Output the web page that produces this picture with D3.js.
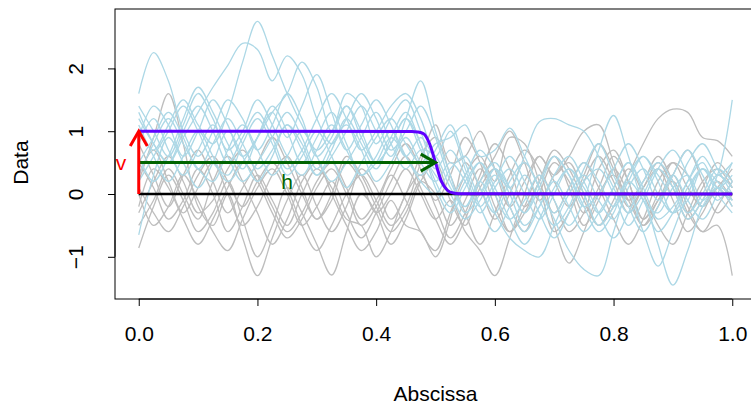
<!DOCTYPE html>
<html>
<head>
<meta charset="utf-8">
<script src="https://cdn.jsdelivr.net/npm/d3@7"></script>
<style>
  html, body { margin: 0; padding: 0; background: #fff; }
  svg { display: block; }
  text { font-family: "Liberation Sans", Arial, Helvetica, sans-serif; }
</style>
</head>
<body>
<svg id="chart" width="751" height="403"></svg>
<script>
// Shared sampling grid of the abscissa
const abscissa = [0, 0.025, 0.05, 0.075, 0.1, 0.125, 0.15, 0.175, 0.2, 0.225,
  0.25, 0.275, 0.3, 0.325, 0.35, 0.375, 0.4, 0.425, 0.45, 0.475,
  0.5, 0.525, 0.55, 0.575, 0.6, 0.625, 0.65, 0.675, 0.7, 0.725,
  0.75, 0.775, 0.8, 0.825, 0.85, 0.875, 0.9, 0.925, 0.95, 0.975, 1];

// Reference curves (grey): no shift anywhere
const greyCurves = [
  [-0.86, -0.2, 0.3, -0.1, -0.6, -0.3, 0.2, -0.4, -1.0, -0.5, 0.1, -0.3, -0.8, -1.29, -0.6, 0.0, -0.3, -0.8, -0.4, 0.2, 0.5, -0.1, -0.5, 0.1, 0.4, -0.2, -0.6, 0.0, 0.5, 0.2, -0.3, 0.1, 0.6, 0.2, -0.4, -0.1, 0.3, -0.2, -0.6, -0.2, 0.2],
  [0.2, 0.9, 1.6, 0.8, -0.2, -0.5, 0.0, -0.7, -1.3, -0.7, -0.1, 0.3, -0.2, -0.6, -0.2, 0.4, 0.1, -0.4, 0.0, 0.6, 0.9, 0.3, -0.3, -0.8, -0.3, 0.3, 0.7, 0.4, -0.1, -0.6, -0.3, 0.4, 0.7, 0.2, -0.4, 0.0, 0.5, 0.3, -0.2, 0.1, 0.4],
  [0.5, 0.1, -0.4, -0.1, 0.4, 0.0, -0.6, -0.2, 0.3, -0.1, -0.5, 0.0, 0.4, 0.1, -0.4, -0.5, -1.0, -0.6, 0.0, 0.3, -0.2, -0.7, -0.3, 0.3, 0.8, 0.4, -0.2, 0.2, 0.6, 0.1, -0.5, -0.1, 0.4, 0.0, -0.5, -0.2, 0.3, 0.7, 0.2, -0.3, 0.0],
  [0.0, -0.5, -0.2, 0.3, -0.1, -0.6, -0.9, -0.4, 0.1, 0.4, 0.0, -0.5, -0.2, 0.2, -0.3, -0.7, -0.3, 0.2, 0.6, 0.1, -0.4, -0.8, -0.4, 0.2, 0.6, 1.0, 0.5, -0.1, 0.3, 0.5, 0.0, -0.5, -0.2, 0.3, 0.8, 1.2, 1.35, 1.3, 0.9, 0.85, 0.6],
  [-0.3, 0.2, 0.6, 0.2, -0.3, -0.1, 0.4, 0.7, 0.3, -0.2, -0.6, -0.3, 0.2, 0.5, 0.1, -0.4, -0.1, 0.4, 0.8, 0.4, -0.1, 0.3, 0.9, 0.5, -0.2, -0.6, -0.2, 0.3, -0.5, -1.1, -0.6, 0.0, 0.3, -0.1, -0.5, -0.1, 0.2, -0.3, -0.6, -0.5, -1.3],
  [0.3, 0.7, 0.2, -0.3, 0.1, 0.5, 0.0, -0.5, -0.2, 0.3, 0.6, 0.1, -0.4, -0.1, 0.5, 0.2, -0.3, 0.0, 0.4, 0.0, -0.4, -0.1, -0.6, -0.9, -1.3, -0.7, 0.0, 0.6, 0.2, -0.2, 0.3, 0.8, 0.4, -0.2, 0.1, 0.5, 0.1, -0.4, -0.1, 0.3, 0.1],
  [0.1, -0.3, -0.6, -0.2, 0.3, 0.6, 0.2, -0.2, 0.2, 0.5, 0.1, -0.5, -0.9, -0.5, 0.0, 0.3, -0.1, -0.5, -0.2, 0.5, 1.1, 0.5, 0.6, 1.0, 0.4, -0.2, 0.2, 0.6, 0.3, 0.6, 1.0, 1.1, 0.5, -0.1, 0.2, 0.6, 0.2, -0.3, 0.1, 0.5, 0.2],
  [-0.2, 0.4, 0.1, -0.4, -0.8, -0.4, 0.1, 0.5, 0.2, -0.3, -0.7, -0.4, 0.1, 0.4, 0.0, -0.5, -0.2, 0.3, -0.1, -0.6, -0.9, -0.3, 0.3, 0.6, 0.2, 0.9, 0.8, 0.2, -0.3, 0.1, 0.5, 0.1, -0.4, -0.8, -0.4, 0.2, 0.5, 0.1, -0.2, 0.2, -0.1],
  [0.8, 0.3, -0.2, 0.3, 0.7, 0.2, -0.3, 0.1, 0.5, 0.9, 0.5, 0.0, -0.4, 0.0, 0.6, 0.3, -0.2, -0.6, -0.3, 0.2, 0.0, -0.5, -0.1, 0.4, 0.0, -0.6, -0.3, 0.2, 0.7, 0.4, -0.1, -0.5, -0.1, 0.4, 0.0, -0.5, -0.8, -0.3, 0.2, 0.4, 0.1],
  [-0.5, -0.1, 0.4, 0.0, -0.4, 0.2, 0.6, 0.2, -0.3, -0.8, -0.4, 0.2, 0.5, 0.0, -0.5, -0.9, -0.6, -0.1, -0.5, -0.6, -1.0, -0.4, 0.5, 0.1, -0.4, 0.0, 0.5, 0.1, -0.6, -0.3, 0.2, 0.6, 0.2, -0.3, 0.1, 0.4, -0.1, -0.6, -0.3, 0.1, -0.2]
];

// Shifted curves (light blue): raised level before the change point
const blueCurves = [
  [1.6, 2.25, 1.8, 1.0, 0.6, 1.0, 1.5, 1.2, 0.7, 1.1, 1.6, 1.2, 0.6, 0.9, 1.4, 1.0, 0.5, 0.8, 1.2, 0.7, 0.3, 0.0, -0.4, -0.1, 0.3, -0.2, -0.6, -0.2, 0.3, 0.6, 0.2, -0.3, -0.7, -0.3, 0.2, 0.5, 0.2, -0.3, 0.0, 0.4, 0.2],
  [1.0, 0.7, 1.1, 1.5, 1.1, 0.8, 1.3, 2.1, 2.75, 2.2, 1.6, 1.1, 0.7, 1.0, 1.4, 0.9, 0.5, 0.8, 1.2, 0.8, 0.1, -0.3, 0.1, 0.5, 0.1, -0.4, -0.8, -0.4, 0.1, 0.4, 0.0, -0.5, -0.2, 0.3, 0.6, 0.2, -0.3, -0.1, 0.4, 0.2, -0.1],
  [1.3, 0.8, 0.5, 0.9, 1.3, 1.7, 2.05, 2.4, 2.3, 1.8, 2.2, 1.9, 1.2, 0.8, 1.2, 1.6, 1.2, 0.7, 1.0, 1.4, 0.9, 0.2, -0.2, 0.2, 0.5, 0.1, -0.3, 0.1, 0.6, 0.3, -0.2, -0.6, -0.3, 0.2, -0.1, -0.6, -0.3, 0.2, 0.5, 0.1, 0.3],
  [0.9, 1.4, 1.1, 0.6, 1.0, 1.5, 1.1, 0.6, 0.9, 1.3, 1.6, 2.1, 1.7, 1.0, 1.6, 1.4, 0.8, 1.2, 1.5, 1.0, 0.4, 0.7, 0.3, -0.2, 0.2, 0.6, 0.2, -0.3, -0.7, -0.3, 0.2, 0.4, 0.0, -0.5, -0.1, 0.4, 0.7, 0.3, -0.2, 0.1, 0.0],
  [0.5, 0.9, 1.3, 0.9, 0.4, 0.8, 1.2, 0.8, 0.4, 0.7, 1.1, 0.7, 0.3, 0.6, 1.0, 1.4, 1.0, 0.6, 1.2, 1.8, 1.0, 0.3, -0.3, 0.0, 0.4, 0.0, -0.5, -0.2, 0.2, -0.2, -0.6, -0.3, 0.1, 0.5, 0.1, -0.4, -0.2, 0.2, 0.6, 0.3, 0.5],
  [1.2, 0.8, 0.5, 1.0, 1.4, 1.0, 0.5, 0.9, 1.3, 0.9, 0.4, 0.7, 1.2, 1.6, 1.2, 0.7, 1.0, 1.4, 1.6, 1.2, 0.5, 0.0, 0.3, 0.7, 0.4, 0.1, 0.6, 1.15, 1.2, 1.1, 1.0, 0.6, 0.1, -0.3, 0.0, 0.4, 0.1, -0.4, -0.1, 0.3, 0.1],
  [-0.65, 0.3, 0.9, 0.5, 0.1, 0.5, 1.0, 0.6, 0.2, 0.6, 1.1, 0.8, 0.3, 0.7, 1.2, 0.8, 0.4, 0.9, 1.3, 0.8, 0.2, -0.2, 0.2, 0.5, 0.0, -0.4, -0.1, 0.3, -0.1, -0.5, -0.1, 0.7, 1.25, 0.6, -0.1, -0.3, 0.1, 0.3, -0.1, 0.3, 1.5],
  [0.8, 1.2, 0.7, 0.3, 0.7, 1.1, 0.6, 0.2, 0.5, 0.9, 1.3, 0.9, 0.4, 0.8, 1.1, 0.7, 0.2, 0.5, 0.9, 0.5, 0.2, 0.5, 0.2, -0.3, 0.1, 0.4, 0.0, -0.4, 0.0, 0.4, 0.1, -0.3, 0.1, 0.5, 0.0, -0.8, -1.45, -0.9, -0.2, 0.1, -0.2],
  [1.1, 0.6, 0.2, 0.6, 1.0, 0.6, 0.2, 0.5, 0.9, 1.4, 1.0, 0.5, 0.9, 1.3, 0.8, 0.3, 0.6, 1.0, 0.6, 0.2, 0.0, 0.4, 0.6, 0.1, -0.3, 0.2, 0.5, 0.1, -0.4, -0.9, -1.2, -1.3, -0.6, 0.1, 0.4, 0.0, -0.3, 0.1, 0.4, 0.0, -0.3],
  [0.3, 0.8, 1.2, 0.8, 0.4, 0.2, 0.7, 1.1, 0.7, 0.3, 0.6, 1.0, 0.6, 0.2, 0.5, 0.9, 1.3, 0.8, 0.4, 0.7, 0.6, 0.1, -0.2, 0.2, -0.3, -0.7, -0.9, -1.0, -0.5, 0.0, 0.3, -0.1, -0.4, 0.0, -0.6, -1.15, -0.6, 0.0, 0.4, 0.1, -0.1],
  [1.4, 1.0, 0.6, 1.1, 1.6, 1.2, 0.7, 1.0, 1.5, 1.1, 0.6, 0.3, 0.7, 1.1, 0.7, 0.3, 0.5, 0.9, 0.6, 0.3, 0.7, 1.1, 0.5, 0.0, 0.4, 0.1, -0.3, 0.2, 0.6, 0.3, -0.2, 0.0, 0.4, 0.8, 0.4, -0.1, 0.3, 0.7, 0.3, -0.1, 0.2],
  [0.6, 0.2, 0.6, 1.2, 1.7, 1.3, 0.8, 0.4, 0.9, 1.3, 0.9, 1.4, 1.9, 1.3, 0.7, 1.1, 1.5, 1.1, 0.6, 0.9, 0.6, 1.0, 0.4, -0.2, -0.6, -0.2, 0.3, -0.1, -0.5, -0.2, 0.4, 0.8, 0.3, -0.2, -0.6, -0.2, 0.3, -0.1, -0.4, 0.0, 0.5],
  [0.2, 0.6, 1.0, 1.4, 1.0, 0.5, 0.3, 0.8, 1.2, 0.8, 0.3, 0.6, 1.0, 0.6, 0.1, 0.5, 0.9, 1.2, 0.8, 0.5, 0.8, 0.9, 1.1, 0.6, 0.7, 1.05, 0.6, 0.1, -0.3, 0.1, 0.5, 0.2, -0.2, 0.2, 0.6, 0.3, 0.0, 0.5, 0.8, 0.4, 0.0]
];

// Mean shift function: level 1 dropping to 0 around x = 0.5
const shiftX = [0, 0.46, 0.47, 0.48, 0.49, 0.5, 0.51, 0.52, 0.53, 0.54, 1];
const shiftY = [1, 0.996, 0.988, 0.96, 0.8, 0.5, 0.2, 0.06, 0.015, 0.004, 0];

// Baseline and annotation arrows
const baseline = { x: [0, 1], y: [0, 0] };
const hArrow = { x: [0, 0.5], y: [0.5, 0.5] };
const vArrow = { x: [0, 0], y: [0, 1] };

const xTicks = [0, 0.2, 0.4, 0.6, 0.8, 1];
const xTickLabels = ["0.0", "0.2", "0.4", "0.6", "0.8", "1.0"];
const yTicks = [-1, 0, 1, 2];
const yTickLabels = ["\u22121", "0", "1", "2"];

const svg = d3.select("#chart");
const plot = { left: 115, right: 756, top: 9, bottom: 299 };
const fontSize = 21;

const x = d3.scaleLinear().domain([-0.04, 1.04]).range([plot.left, plot.right]);
const y = d3.scaleLinear().domain([-1.672, 2.946]).range([plot.bottom, plot.top]);

const curveLine = d3.line()
  .x((d, i) => x(abscissa[i]))
  .y(d => y(d))
  .curve(d3.curveCatmullRom.alpha(0.5));

const gCurves = svg.append("g").attr("fill", "none");
gCurves.selectAll("path.grey").data(greyCurves).join("path")
  .attr("class", "grey")
  .attr("d", curveLine)
  .attr("stroke", "#bebebe")
  .attr("stroke-width", 1.3);
gCurves.selectAll("path.blue").data(blueCurves).join("path")
  .attr("class", "blue")
  .attr("d", curveLine)
  .attr("stroke", "#add8e6")
  .attr("stroke-width", 1.3);

const seg = d3.line().x(d => x(d[0])).y(d => y(d[1]));
const pairs = o => o.x.map((v, i) => [v, o.y[i]]);

// Baseline at zero
svg.append("path").attr("d", seg(pairs(baseline)))
  .attr("fill", "none").attr("stroke", "#000").attr("stroke-width", 2.5);

// Shift function
svg.append("path")
  .attr("d", d3.line().x(d => x(d[0])).y(d => y(d[1])).curve(d3.curveMonotoneX)(shiftX.map((v, i) => [v, shiftY[i]])))
  .attr("fill", "none").attr("stroke", "#5f00ff").attr("stroke-width", 3);

// Arrow with an open V head at its end
function arrow(o, color) {
  const p = pairs(o).map(d => [x(d[0]), y(d[1])]);
  const [x0, y0] = p[0], [x1, y1] = p[1];
  const ang = Math.atan2(y1 - y0, x1 - x0);
  const len = 17, spread = Math.PI / 6;
  const g = svg.append("g").attr("fill", "none").attr("stroke", color)
    .attr("stroke-width", 3).attr("stroke-linecap", "butt");
  g.append("path").attr("d", `M${x0},${y0}L${x1},${y1}`);
  g.append("path").attr("d",
    `M${x1 - len * Math.cos(ang - spread)},${y1 - len * Math.sin(ang - spread)}` +
    `L${x1},${y1}` +
    `L${x1 - len * Math.cos(ang + spread)},${y1 - len * Math.sin(ang + spread)}`);
}
arrow(hArrow, "#006400");
arrow(vArrow, "#ff0000");

svg.append("text").attr("x", x(0.25)).attr("y", y(0.2))
  .attr("text-anchor", "middle").attr("dominant-baseline", "central")
  .attr("fill", "#006400").attr("font-size", fontSize).text("h");
svg.append("text").attr("x", x(-0.03)).attr("y", y(0.5))
  .attr("text-anchor", "middle").attr("dominant-baseline", "central")
  .attr("fill", "#ff0000").attr("font-size", fontSize).text("v");

// Frame
svg.append("rect")
  .attr("x", plot.left).attr("y", plot.top)
  .attr("width", plot.right - plot.left).attr("height", plot.bottom - plot.top)
  .attr("fill", "none").attr("stroke", "#000").attr("stroke-width", 1);

// Axes
const xAxis = d3.axisBottom(x).tickValues(xTicks)
  .tickFormat((d, i) => xTickLabels[i]).tickSize(7).tickPadding(20);
const gx = svg.append("g").attr("transform", `translate(0,${plot.bottom})`).call(xAxis);
gx.select(".domain").attr("d", `M${x(xTicks[0])},0H${x(xTicks[xTicks.length - 1])}`);
gx.selectAll("text").attr("font-size", fontSize).attr("font-family", "Liberation Sans, Arial, sans-serif").attr("fill", "#000");

const yAxis = d3.axisLeft(y).tickValues(yTicks)
  .tickFormat((d, i) => yTickLabels[i]).tickSize(7).tickPadding(0);
const gy = svg.append("g").attr("transform", `translate(${plot.left},0)`).call(yAxis);
gy.select(".domain").attr("d", `M0,${y(yTicks[0])}V${y(yTicks[yTicks.length - 1])}`);
gy.selectAll(".tick text")
  .attr("x", 0).attr("dy", null).attr("dominant-baseline", "central")
  .attr("text-anchor", "middle").attr("font-size", fontSize)
  .attr("font-family", "Liberation Sans, Arial, sans-serif").attr("fill", "#000")
  .attr("transform", "translate(-40,0) rotate(-90)");

svg.append("text").attr("x", x(0.5)).attr("y", 393)
  .attr("text-anchor", "middle").attr("dominant-baseline", "central")
  .attr("font-size", fontSize).text("Abscissa");
svg.append("text")
  .attr("transform", `translate(20,${y(0.5)}) rotate(-90)`)
  .attr("text-anchor", "middle").attr("dominant-baseline", "central")
  .attr("font-size", fontSize).text("Data");
</script>
</body>
</html>
